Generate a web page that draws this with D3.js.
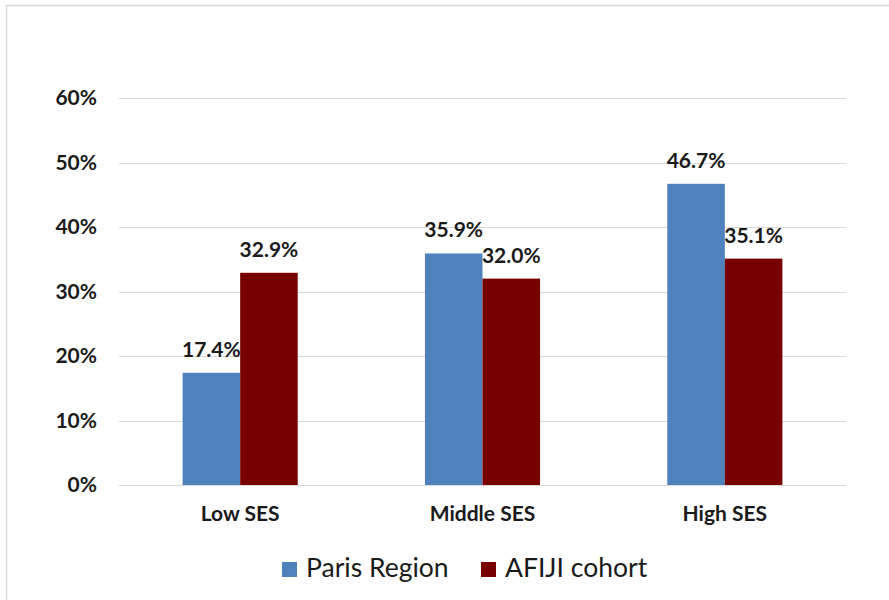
<!DOCTYPE html>
<html>
<head>
<meta charset="utf-8">
<script src="https://cdn.jsdelivr.net/npm/d3@7"></script>
<style>
  html, body { margin: 0; padding: 0; background: #fff; }
  svg { display: block; }
  text { font-family: Lato, "Open Sans", sans-serif; fill: #1a1a1a; }
</style>
</head>
<body>
<svg id="chart" width="889" height="600"></svg>
<script>
// Share of each socio-economic group, Paris Region vs AFIJI cohort
const categories = ["Low SES", "Middle SES", "High SES"];
const seriesNames = ["Paris Region", "AFIJI cohort"];
const parisRegion = [17.4, 35.9, 46.7];
const afijiCohort = [32.9, 32.0, 35.1];
const tickValues = [0, 10, 20, 30, 40, 50, 60];

const colors = ["#4f81bd", "#780000"];
const seriesValues = [parisRegion, afijiCohort];

const svg = d3.select("#chart");
const W = 889, H = 600;
const plot = { left: 119, right: 846, top: 98, bottom: 485 };

// outer frame (top and left edges visible)
svg.append("path")
  .attr("d", `M6.5,${H} V5.5 H${W}`)
  .attr("fill", "none")
  .attr("stroke", "#d9d9d9")
  .attr("stroke-width", 1.5);

const x0 = d3.scaleBand()
  .domain(categories)
  .range([plot.left, plot.right])
  .padding(0);

const bw = x0.bandwidth();
const groupHalf = bw * 0.2375;
const x1 = d3.scaleBand()
  .domain(seriesNames)
  .range([bw / 2 - groupHalf, bw / 2 + groupHalf])
  .padding(0);

const y = d3.scaleLinear()
  .domain([0, 60])
  .range([plot.bottom, plot.top]);

// horizontal gridlines
svg.append("g")
  .selectAll("line")
  .data(tickValues)
  .join("line")
  .attr("x1", plot.left)
  .attr("x2", plot.right)
  .attr("y1", d => Math.round(y(d)) + 0.5)
  .attr("y2", d => Math.round(y(d)) + 0.5)
  .attr("stroke", "#d9d9d9")
  .attr("stroke-width", 1);

// y axis labels
const yAxis = d3.axisLeft(y)
  .tickValues(tickValues)
  .tickSize(0)
  .tickPadding(0)
  .tickFormat(d => d + "%");
const yg = svg.append("g")
  .attr("transform", `translate(97,0)`)
  .call(yAxis);
yg.select(".domain").remove();
yg.selectAll("text")
  .attr("font-family", "Lato, sans-serif")
  .attr("font-weight", "bold")
  .attr("font-size", 21)
  .attr("fill", "#1a1a1a");

// x axis category labels
const xAxis = d3.axisBottom(x0).tickSize(0).tickPadding(0);
const xg = svg.append("g")
  .attr("transform", `translate(0,${plot.bottom})`)
  .call(xAxis);
xg.select(".domain").remove();
xg.selectAll("text")
  .attr("dy", null)
  .attr("y", 36)
  .attr("font-family", "Lato, sans-serif")
  .attr("font-weight", "bold")
  .attr("font-size", 21)
  .attr("fill", "#1a1a1a");

// bars and value labels
const rows = categories.map((c, i) => ({
  cat: c,
  vals: seriesNames.map((s, j) => ({ s, j, v: seriesValues[j][i] }))
}));

const groups = svg.append("g")
  .selectAll("g")
  .data(rows)
  .join("g")
  .attr("transform", d => `translate(${x0(d.cat)},0)`);

groups.selectAll("rect")
  .data(d => d.vals)
  .join("rect")
  .attr("x", d => x1(d.s))
  .attr("width", x1.bandwidth())
  .attr("y", d => y(d.v))
  .attr("height", d => y(0) - y(d.v))
  .attr("fill", d => colors[d.j]);

groups.selectAll("text.val")
  .data(d => d.vals)
  .join("text")
  .attr("class", "val")
  .attr("x", d => x1(d.s) + x1.bandwidth() / 2)
  .attr("y", d => y(d.v) - 16)
  .attr("text-anchor", "middle")
  .attr("font-weight", "bold")
  .attr("font-size", 21)
  .text(d => d.v.toFixed(1) + "%");

// legend
const legendX = [282, 481];
const legend = svg.append("g")
  .selectAll("g")
  .data(seriesNames)
  .join("g")
  .attr("transform", (d, i) => `translate(${legendX[i]},562)`);
legend.append("rect")
  .attr("width", 15)
  .attr("height", 15)
  .attr("fill", (d, i) => colors[i]);
legend.append("text")
  .attr("x", 24)
  .attr("y", 15)
  .attr("font-size", 26.5)
  .text(d => d);
</script>
</body>
</html>
